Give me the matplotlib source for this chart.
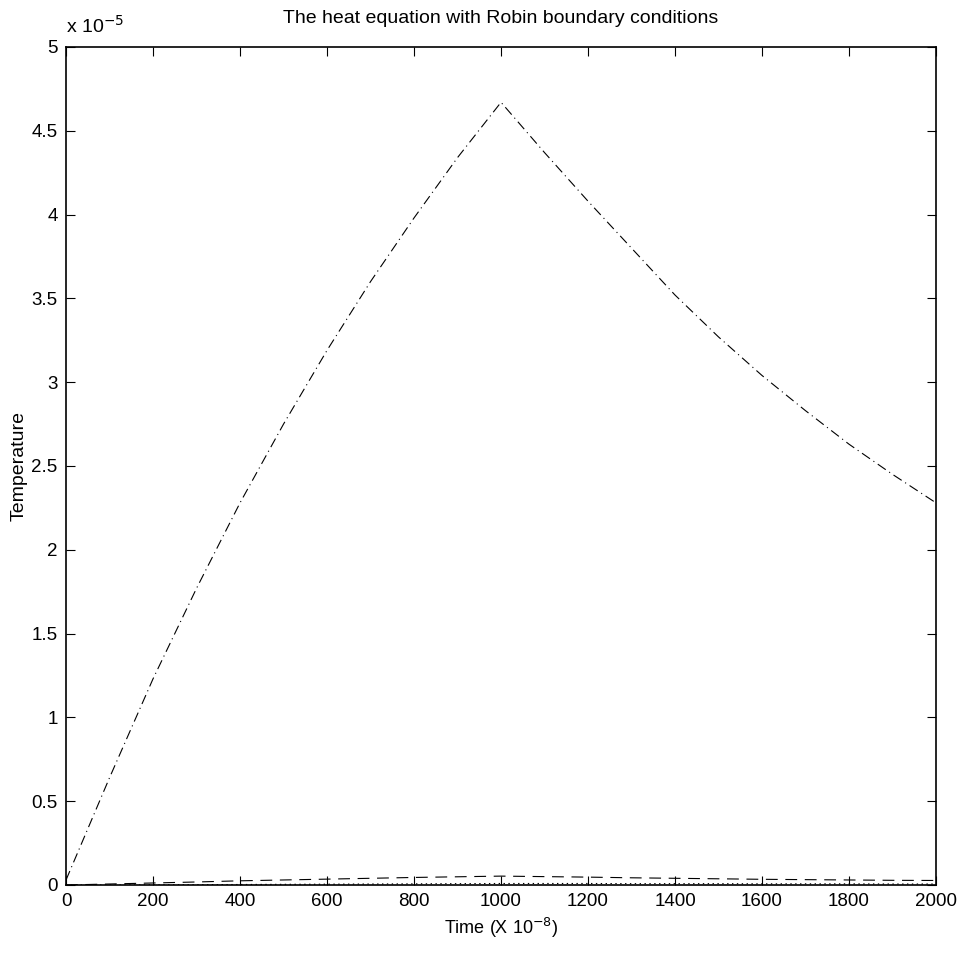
import numpy as np
import matplotlib
matplotlib.use("Agg")
import matplotlib.pyplot as plt
from matplotlib.ticker import FuncFormatter

plt.rcParams['font.family'] = ['Liberation Sans', 'DejaVu Sans']
plt.rcParams['lines.scale_dashes'] = False

# time axis (X 10^-8) and temperatures (in units of 1e-5)
time = [0, 100, 200, 300, 400, 500, 600, 700, 800, 900, 1000,
        1100, 1200, 1300, 1400, 1500, 1600, 1700, 1800, 1900, 2000]
temp_surface = [0.03, 0.64, 1.23, 1.77, 2.28, 2.75, 3.19, 3.60, 3.98, 4.34, 4.67,
                4.37, 4.08, 3.80, 3.52, 3.27, 3.04, 2.83, 2.63, 2.45, 2.28]
temp_mid = [0.0, 0.006, 0.012, 0.018, 0.025, 0.030, 0.035, 0.040, 0.045, 0.049, 0.053,
            0.050, 0.047, 0.043, 0.040, 0.037, 0.034, 0.032, 0.030, 0.028, 0.027]
temp_deep = [0.0, 0.0, 0.001, 0.002, 0.003, 0.004, 0.005, 0.006, 0.007, 0.008, 0.009,
             0.009, 0.009, 0.008, 0.008, 0.008, 0.007, 0.007, 0.007, 0.006, 0.006]

fig = plt.figure(figsize=(9.61, 9.55), dpi=100)
ax = fig.add_axes([0.0687, 0.0733, 0.9053, 0.8775])

ax.plot(time, temp_deep, color='black', linewidth=0.8, dashes=(1, 2.5))
ax.plot(time, temp_mid, color='black', linewidth=0.8, dashes=(8.5, 5.5))
ax.plot(time, temp_surface, color='black', linewidth=0.8, dashes=(7, 3, 0.8, 3))

ax.set_xlim(0, 2000)
ax.set_ylim(0, 5)
ax.set_xticks(np.arange(0, 2001, 200))
ax.set_yticks(np.arange(0, 5.01, 0.5))
ax.yaxis.set_major_formatter(FuncFormatter(lambda v, p: '%g' % v))
ax.tick_params(direction='in', length=6.5, width=0.8, top=True, right=True,
               labelsize=13.5, pad=6)
for s in ax.spines.values():
    s.set_linewidth(1.2)

ax.set_title('The heat equation with Robin boundary conditions', fontsize=14, pad=17)
ax.set_xlabel('Time (X 10$^{-8}$)', fontsize=13, labelpad=4)
ax.set_ylabel('Temperature', fontsize=14, labelpad=3)
ax.text(0.0, 1.012, 'x 10$^{-5}$', transform=ax.transAxes, fontsize=14,
        ha='left', va='bottom')

fig.savefig('out.png', dpi=100)
